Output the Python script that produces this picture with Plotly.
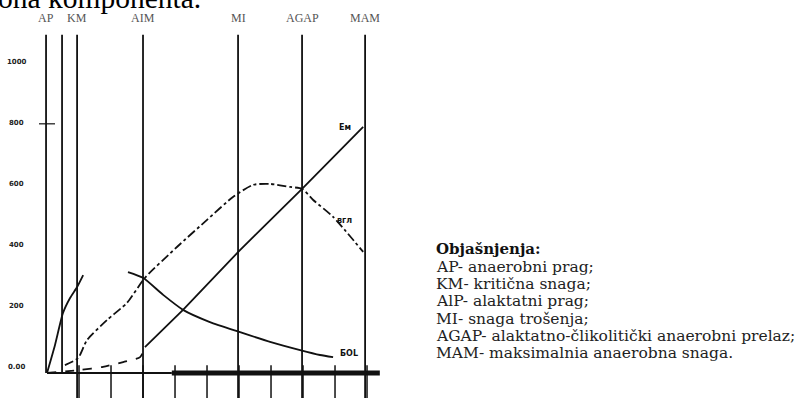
import plotly.graph_objects as go

# ---------------- data ----------------
# vertical threshold lines (x position) and their labels
zone_labels = ["AP", "", "KM", "AIM", "MI", "AGAP", "MAM"]
zone_x = [-0.03, 0.47, 0.94, 3.0, 5.97, 7.97, 9.94]

# y tick labels
y_tick_vals = [1000, 800, 600, 400, 200, 0]
y_tick_text = ["1000", "800", "600", "400", "200", "0.00"]

# x tick positions (below baseline)
x_ticks = [1, 2, 3, 4, 5, 6, 7, 8, 9, 10]

# steep early curve
c1_x = [0, 0.25, 0.5, 0.72, 0.94, 1.13]
c1_y = [0, 92, 197, 246, 282, 321]

# dash-dot curve (rise and fall)
c2_x = [0.56, 0.97, 1.25, 1.88, 2.5, 3.06, 4.06, 5.0, 5.81, 6.44, 6.97, 7.59, 7.97, 8.31, 8.94, 9.88]
c2_y = [26, 49, 108, 174, 230, 312, 413, 502, 577, 617, 620, 610, 604, 568, 512, 397]

# rising line: dotted start + solid part
c3a_x = [0, 1.03, 1.75, 2.38, 2.91, 3.06]
c3a_y = [0, 10, 20, 36, 52, 85]
c3b_x = [3.06, 4.25, 6.03, 7.97, 9.88]
c3b_y = [85, 207, 403, 604, 807]

# falling curve
c4_x = [2.53, 3.0, 3.63, 4.25, 5.09, 6.03, 6.97, 7.91, 8.53, 8.94]
c4_y = [331, 312, 256, 207, 167, 134, 102, 75, 59, 52]

# curve labels
curve_label_text = ["Eм", "вгл", "БОL"]
curve_label_x = [9.3, 9.3, 9.45]
curve_label_y = [805, 500, 65]

legend_title = "Objašnjenja:"
legend_lines = [
    "AP- anaerobni prag;",
    "KM- kritična snaga;",
    "AlP- alaktatni prag;",
    "MI- snaga trošenja;",
    "AGAP- alaktatno-člikolitički anaerobni prelaz;",
    "MAM- maksimalnia anaerobna snaga.",
]

top_text = "ona komponenta."

# ---------------- figure ----------------
fig = go.Figure()

line_col = "#111111"

# vertical zone lines
for i, xv in enumerate(zone_x):
    ybot = 0 if i < 2 else -82
    fig.add_trace(go.Scatter(x=[xv, xv], y=[1109, ybot], mode="lines",
                             line=dict(color=line_col, width=1.8),
                             hoverinfo="skip", showlegend=False))

# baseline
fig.add_trace(go.Scatter(x=[0, 3.9], y=[0, 0], mode="lines",
                         line=dict(color=line_col, width=2),
                         hoverinfo="skip", showlegend=False))
fig.add_trace(go.Scatter(x=[3.9, 10.4], y=[0, 0], mode="lines",
                         line=dict(color=line_col, width=5),
                         hoverinfo="skip", showlegend=False))

# x ticks below baseline
tx, ty = [], []
for t in x_ticks:
    tx += [t, t, None]
    ty += [25, -82, None]
fig.add_trace(go.Scatter(x=tx, y=ty, mode="lines",
                         line=dict(color=line_col, width=1.5),
                         hoverinfo="skip", showlegend=False))

# small mark on y axis
fig.add_trace(go.Scatter(x=[-0.25, 0.25], y=[817, 817], mode="lines",
                         line=dict(color=line_col, width=1.2),
                         hoverinfo="skip", showlegend=False))

# curves
fig.add_trace(go.Scatter(x=c1_x, y=c1_y, mode="lines",
                         line=dict(color=line_col, width=1.8, shape="spline", smoothing=0.6),
                         hoverinfo="skip", showlegend=False))
fig.add_trace(go.Scatter(x=c2_x, y=c2_y, mode="lines",
                         line=dict(color=line_col, width=1.8, dash="dashdot", shape="spline", smoothing=0.6),
                         hoverinfo="skip", showlegend=False))
fig.add_trace(go.Scatter(x=c3a_x, y=c3a_y, mode="lines",
                         line=dict(color=line_col, width=1.8, dash="dash", shape="spline", smoothing=0.6),
                         hoverinfo="skip", showlegend=False))
fig.add_trace(go.Scatter(x=c3b_x, y=c3b_y, mode="lines",
                         line=dict(color=line_col, width=1.8),
                         hoverinfo="skip", showlegend=False))
fig.add_trace(go.Scatter(x=c4_x, y=c4_y, mode="lines",
                         line=dict(color=line_col, width=1.8, shape="spline", smoothing=0.6),
                         hoverinfo="skip", showlegend=False))

annotations = []

# zone labels at top
for lab, xv in zip(zone_labels, zone_x):
    if lab:
        annotations.append(dict(x=xv, y=1, xref="x", yref="paper", yanchor="top",
                                yshift=-9, text=lab, showarrow=False,
                                font=dict(family="Liberation Serif", size=12, color="#555555")))

# y tick labels
for v, t in zip(y_tick_vals, y_tick_text):
    annotations.append(dict(x=-0.95, y=v, xref="x", yref="y", text="<b>%s</b>" % t,
                            yshift=6, showarrow=False,
                            font=dict(family="DejaVu Sans", size=7, color="#222222")))

# curve labels
for t, xv, yv in zip(curve_label_text, curve_label_x, curve_label_y):
    annotations.append(dict(x=xv, y=yv, xref="x", yref="y", text="<b>%s</b>" % t,
                            showarrow=False,
                            font=dict(family="DejaVu Sans", size=8, color="#111111")))

# explanation block
annotations.append(dict(x=434 / 800, y=1 - 249 / 398, xref="paper", yref="paper",
                        xanchor="left", yanchor="middle", text="<b>%s</b>" % legend_title,
                        showarrow=False,
                        font=dict(family="DejaVu Serif", size=15, color="#111111")))
for i, line in enumerate(legend_lines):
    py = 267 + i * 17.2
    annotations.append(dict(x=434 / 800, y=1 - py / 398, xref="paper", yref="paper",
                            xanchor="left", yanchor="middle", text=line,
                            showarrow=False,
                            font=dict(family="DejaVu Serif", size=15.5, color="#222222")))

# cut-off top text
annotations.append(dict(x=-4 / 800, y=1, xref="paper", yref="paper", xanchor="left",
                        yanchor="bottom", yshift=-16, text=top_text, showarrow=False,
                        font=dict(family="Liberation Serif", size=29.5, color="#000000")))

fig.update_layout(
    width=800, height=398,
    margin=dict(l=0, r=0, t=0, b=0),
    paper_bgcolor="white", plot_bgcolor="white",
    xaxis=dict(range=[-1.469, 23.53], visible=False, fixedrange=True),
    yaxis=dict(range=[-82, 1223], visible=False, fixedrange=True),
    annotations=annotations,
    showlegend=False,
)

fig.write_html("out.html",
               config={"displayModeBar": False, "staticPlot": True},
               post_script="document.body.style.margin='0';document.body.style.padding='0';")
